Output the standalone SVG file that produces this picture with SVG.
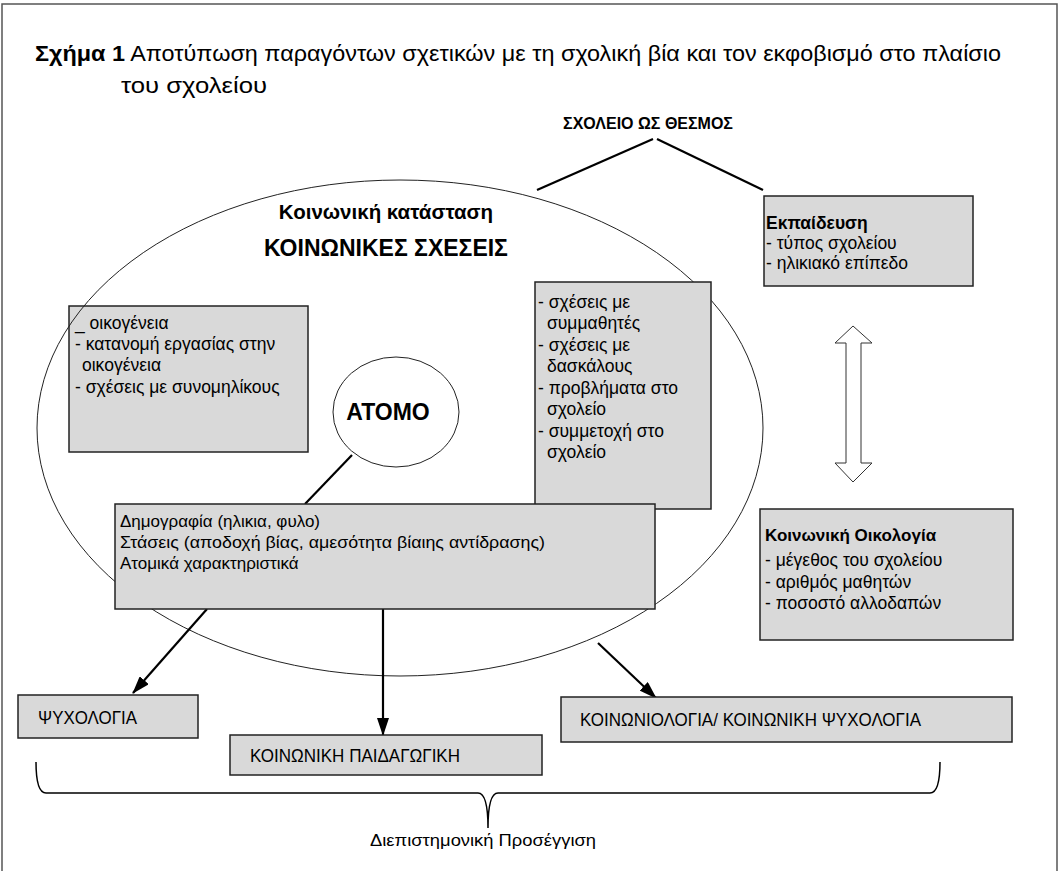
<svg xmlns="http://www.w3.org/2000/svg" width="1061" height="871" viewBox="0 0 1061 871">
<defs>
<style>
text{font-family:"Liberation Sans",Arial,sans-serif;fill:#000}
.t{font-size:17.5px}
.b{font-weight:bold}
.box{fill:#d9d9d9;stroke:#222;stroke-width:1.5}
.cap{font-size:18px}
.ln{stroke:#000;stroke-width:2.2;fill:none}
</style>
<marker id="ah2" viewBox="0 0 18 12" refX="17" refY="6" markerWidth="18" markerHeight="12" markerUnits="userSpaceOnUse" orient="auto">
<path d="M0,0 L18,6 L0,12 z" fill="#000"/>
</marker>
</defs>
<rect width="1061" height="871" fill="#fff"/>
<path d="M2,871 V4 H1057 V871" fill="none" stroke="#555" stroke-width="1.5"/>

<g id="title">
<text x="35" y="61" font-size="22" textLength="966" lengthAdjust="spacingAndGlyphs"><tspan font-weight="bold">Σχήμα 1</tspan> Αποτύπωση παραγόντων σχετικών με τη σχολική βία και τον εκφοβισμό στο πλαίσιο</text>
<text x="121" y="93" font-size="22" textLength="146" lengthAdjust="spacingAndGlyphs">του σχολείου</text>
</g>

<g id="school-institution">
<text x="648" y="129" font-size="16" class="b" text-anchor="middle">ΣΧΟΛΕΙΟ ΩΣ ΘΕΣΜΟΣ</text>
</g>

<g id="family-box">
<rect class="box" x="69" y="306" width="239" height="146"/>
<text class="t" x="75" y="329">_ οικογένεια</text>
<text class="t" x="75" y="350">- κατανομή εργασίας στην</text>
<text class="t" x="82" y="371">οικογένεια</text>
<text class="t" x="75" y="393">- σχέσεις με συνομηλίκους</text>
</g>

<g id="social-situation">
<ellipse cx="400" cy="428" rx="363" ry="248" fill="none" stroke="#222" stroke-width="1"/>
<text x="386" y="219" font-size="20.5" class="b" text-anchor="middle">Κοινωνική κατάσταση</text>
<text x="386" y="256" font-size="23" class="b" text-anchor="middle">ΚΟΙΝΩΝΙΚΕΣ ΣΧΕΣΕΙΣ</text>
</g>

<g id="school-box">
<rect class="box" x="535" y="282" width="176" height="227"/>
<text class="t" x="538" y="308">- σχέσεις με</text>
<text class="t" x="547" y="329">συμμαθητές</text>
<text class="t" x="538" y="351">- σχέσεις με</text>
<text class="t" x="547" y="372">δασκάλους</text>
<text class="t" x="538" y="394">- προβλήματα στο</text>
<text class="t" x="547" y="415">σχολείο</text>
<text class="t" x="538" y="437">- συμμετοχή στο</text>
<text class="t" x="547" y="458">σχολείο</text>
</g>

<g id="atomo">
<ellipse cx="396" cy="412" rx="63" ry="55" fill="#fff" stroke="#222" stroke-width="1"/>
<text x="388" y="420" font-size="23" class="b" text-anchor="middle">ATOMO</text>
</g>

<g id="connectors">
<line class="ln" x1="653" y1="139" x2="537" y2="190"/>
<line class="ln" x1="657" y1="139" x2="763" y2="190"/>
<line class="ln" x1="352" y1="455" x2="305" y2="504"/>
<line class="ln" x1="207" y1="609" x2="133" y2="693" marker-end="url(#ah2)"/>
<line class="ln" x1="383" y1="609" x2="383" y2="735" marker-end="url(#ah2)"/>
<line class="ln" x1="598" y1="643" x2="656" y2="698" marker-end="url(#ah2)"/>
<polygon points="853,326 872,343 861,343 861,463 872,463 853,482 835,463 846,463 846,343 835,343" fill="#fff" stroke="#333" stroke-width="1"/>
<path d="M36,762 Q36,793 46,793 H478 Q488,793 488,828 Q488,793 498,793 H930 Q940,793 940,762" fill="none" stroke="#000" stroke-width="1.5"/>
</g>

<g id="individual-box">
<rect class="box" x="115" y="504" width="540" height="105"/>
<text x="120" y="527" font-size="17">Δημογραφία (ηλικια, φυλο)</text>
<text x="120" y="548" font-size="17" textLength="425" lengthAdjust="spacingAndGlyphs">Στάσεις (αποδοχή βίας, αμεσότητα βίαιης αντίδρασης)</text>
<text x="120" y="569" font-size="17">Ατομικά χαρακτηριστικά</text>
</g>

<g id="education-box">
<rect class="box" x="764" y="196" width="209" height="90"/>
<text class="t b" x="766" y="229">Εκπαίδευση</text>
<text class="t" x="766" y="249">- τύπος σχολείου</text>
<text class="t" x="766" y="269">- ηλικιακό επίπεδο</text>
</g>

<g id="ecology-box">
<rect class="box" x="760" y="509" width="253" height="131"/>
<text class="b" font-size="17" x="765" y="541">Κοινωνική Οικολογία</text>
<text class="t" x="765" y="566">- μέγεθος του σχολείου</text>
<text class="t" x="765" y="588">- αριθμός μαθητών</text>
<text class="t" x="765" y="609">- ποσοστό αλλοδαπών</text>
</g>

<g id="psychology">
<rect class="box" x="18" y="695" width="180" height="43"/>
<text class="cap" x="38" y="724" textLength="99" lengthAdjust="spacingAndGlyphs">ΨΥΧΟΛΟΓΙΑ</text>
</g>

<g id="social-pedagogy">
<rect class="box" x="230" y="735" width="312" height="40"/>
<text class="cap" x="250" y="762" textLength="210" lengthAdjust="spacingAndGlyphs">ΚΟΙΝΩΝΙΚΗ ΠΑΙΔΑΓΩΓΙΚΗ</text>
</g>

<g id="sociology">
<rect class="box" x="561" y="697" width="451" height="45"/>
<text class="cap" x="580" y="726" textLength="341" lengthAdjust="spacingAndGlyphs">ΚΟΙΝΩΝΙΟΛΟΓΙΑ/ ΚΟΙΝΩΝΙΚΗ ΨΥΧΟΛΟΓΙΑ</text>
</g>

<g id="interdisciplinary">
<text x="483" y="846" font-size="16" text-anchor="middle" textLength="226" lengthAdjust="spacingAndGlyphs">Διεπιστημονική Προσέγγιση</text>
</g>
</svg>
